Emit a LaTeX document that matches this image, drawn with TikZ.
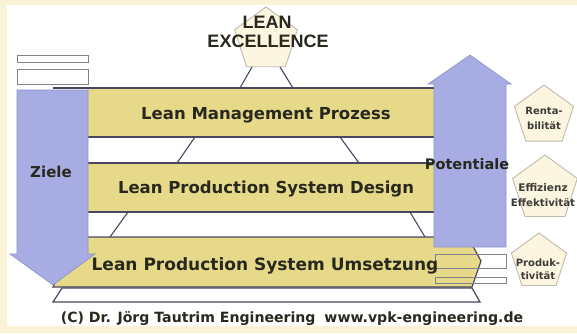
\documentclass[tikz,border=0pt]{standalone}
\usepackage{fontspec}
\setmainfont{DejaVu Sans}
\newfontfamily\arialf{Liberation Sans}
\usetikzlibrary{shapes.geometric}
\definecolor{cream}{RGB}{251,243,214}
\definecolor{bandyellow}{RGB}{230,217,138}
\definecolor{arrowblue}{RGB}{167,173,227}
\definecolor{arrowedge}{RGB}{140,146,196}
\definecolor{bandedge}{RGB}{72,72,96}
\definecolor{rectedge}{RGB}{130,130,140}
\definecolor{pentfill}{RGB}{252,246,224}
\definecolor{pentedge}{RGB}{190,186,172}
\definecolor{txt}{RGB}{40,40,30}
\definecolor{pentxt}{RGB}{60,60,55}
\begin{document}
\begin{tikzpicture}[x=1pt,y=-1pt,
  bandfill/.style={fill=bandyellow},
  bandline/.style={draw=bandedge,line width=1.2pt},
  pyrline/.style={draw=bandedge,line width=1.1pt},
  bluearrow/.style={fill=arrowblue,draw=arrowedge,line width=0.6pt},
  grayrect/.style={fill=white,draw=rectedge,line width=0.9pt},
  opengray/.style={draw=rectedge,line width=0.9pt},
  bandtext/.style={anchor=base,text=txt,font=\bfseries\fontsize{16.5}{18}\selectfont,inner sep=0pt},
  arrowtext/.style={anchor=base,text=txt,font=\bfseries\fontsize{15}{17}\selectfont,inner sep=0pt},
  penta/.style={regular polygon,regular polygon sides=5,fill=pentfill,draw=pentedge,line width=0.9pt,inner sep=0pt},
  pentext/.style={anchor=base,text=pentxt,font=\bfseries\fontsize{10}{11}\selectfont,inner sep=0pt}]
\useasboundingbox (0,0) rectangle (577,333);
\fill[cream] (0,0) rectangle (577,333);
\fill[white] (7,5) rectangle (577,326);

% top pentagon
\node[penta,minimum size=66pt] (lx) at (266,40) {};
\coordinate (lxl) at (252,67);
\coordinate (lxr) at (280,67);
% pyramid lines
\coordinate (b1l) at (240,88);
\coordinate (b1r) at (293,88);
\draw[pyrline] (lxl) -- (b1l);
\draw[pyrline] (lxr) -- (b1r);
\coordinate (p2a) at (195,137); \coordinate (p2b) at (177,163);
\coordinate (p2c) at (340,137); \coordinate (p2d) at (359,163);
\draw[pyrline] (p2a) -- (p2b);
\draw[pyrline] (p2c) -- (p2d);
\coordinate (p3a) at (128,212); \coordinate (p3b) at (110,237);
\coordinate (p3c) at (410,212); \coordinate (p3d) at (425,237);
\draw[pyrline] (p3a) -- (p3b);
\draw[pyrline] (p3c) -- (p3d);

% band 1 and 2
\fill[bandfill] (88,88) rectangle (434,137);
\draw[bandline] (53,88) -- (434,88);
\draw[bandline] (88,137) -- (434,137);
\fill[bandfill] (88,163) rectangle (434,212);
\draw[bandline] (88,163) -- (434,163);
\draw[bandline] (88,212) -- (434,212);

% bottom strip
\draw[bandline,fill=white] (62,288) -- (472,288) -- (480,302) -- (53,302) -- cycle;
% band 3
\draw[bandline,bandfill] (74,237) -- (468,237) -- (481,261) -- (472,287) -- (53,287) -- cycle;

% left gray rects
\draw[grayrect] (17,55) rectangle (88,62);
\draw[grayrect] (17,69) rectangle (88,84);

% left arrow (Ziele)
\draw[bluearrow] (17,90) -- (88,90) -- (88,254) -- (95,254) -- (53,285) -- (10,254) -- (17,254) -- cycle;
% right arrow (Potentiale)
\draw[bluearrow] (434,247) -- (434,84) -- (428,84) -- (470,55) -- (511,84) -- (506,84) -- (506,247) -- cycle;

% right open rects
\draw[opengray] (435,254) rectangle (506,268);
\draw[opengray] (435,277) rectangle (506,283);

% band texts
\node[bandtext] (t1) at (266,119) {Lean Management Prozess};
\node[bandtext] (t2) at (266,193) {Lean Production System Design};
\node[bandtext,font=\bfseries\fontsize{17}{18}\selectfont] (t3) at (265,270) {Lean Production System Umsetzung};
\node[arrowtext] (zi) at (51,177.5) {Ziele};
\node[arrowtext,font=\bfseries\fontsize{14.5}{16}\selectfont] (po) at (467,169) {Potentiale};

% top pentagon text
\node[anchor=base,inner sep=0pt,text=txt,font=\arialf\bfseries\fontsize{18}{20}\selectfont] (lean) at (267,28.5) {LEAN};
\node[anchor=base,inner sep=0pt,text=txt,font=\arialf\bfseries\fontsize{18}{20}\selectfont] (exc) at (268,47.5) {EXCELLENCE};

% right pentagons
\node[penta,minimum size=62pt] (pr) at (544,116) {};
\node[penta,minimum size=68pt] (pe) at (545,189) {};
\node[penta,minimum size=58pt] (pp) at (539,262) {};
\node[pentext] (r1) at (544,114) {Renta-};
\node[pentext] (r2) at (544,129) {bilität};
\node[pentext,font=\bfseries\fontsize{10.5}{12}\selectfont] (e1) at (543,191) {Effizienz};
\node[pentext,font=\bfseries\fontsize{10.2}{12}\selectfont] (e2) at (543,206) {Effektivität};
\node[pentext] (q1) at (538,266) {Produk-};
\node[pentext] (q2) at (538,279) {tivität};

% copyright
\node[anchor=base,inner sep=0pt,text=txt,font=\bfseries\fontsize{14.1}{16}\selectfont] (cp) at (292,322) {(C) Dr. Jörg Tautrim Engineering\hspace{4pt} www.vpk-engineering.de};
\end{tikzpicture}
\end{document}
